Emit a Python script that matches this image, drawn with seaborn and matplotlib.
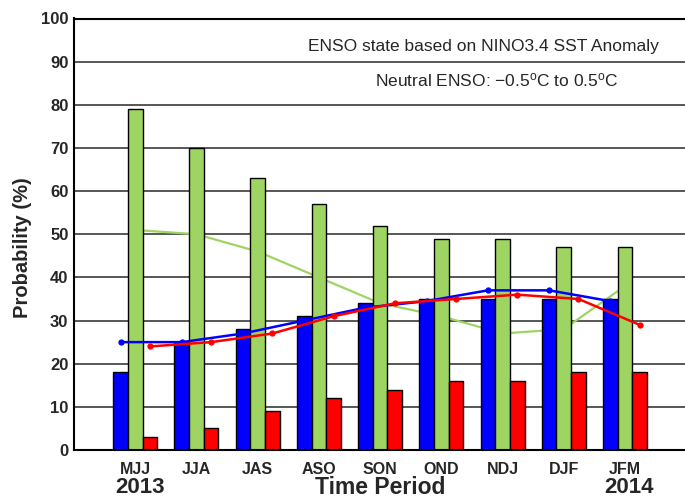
import numpy as np
import pandas as pd
import matplotlib
matplotlib.use("Agg")
import matplotlib.pyplot as plt
import seaborn as sns

seasons = ["MJJ", "JJA", "JAS", "ASO", "SON", "OND", "NDJ", "DJF", "JFM"]
el_nino = [18, 25, 28, 31, 34, 35, 35, 35, 35]
neutral = [79, 70, 63, 57, 52, 49, 49, 47, 47]
la_nina = [3, 5, 9, 12, 14, 16, 16, 18, 18]
clim_el_nino = [25, 25, 27, 30, 33, 34.5, 37, 37, 34.5]
clim_neutral = [51, 50, 46, 40, 34, 31, 27, 28, 38]
clim_la_nina = [24, 25, 27, 31, 34, 35, 36, 35, 29]
yticks = list(range(0, 101, 10))

sns.set_style("white")
plt.rcParams['font.family'] = ['Liberation Sans', 'DejaVu Sans']
plt.rcParams['mathtext.fontset'] = 'custom'
plt.rcParams['mathtext.rm'] = 'Liberation Sans'
plt.rcParams['mathtext.it'] = 'Liberation Sans:italic'
plt.rcParams['mathtext.bf'] = 'Liberation Sans:bold'

BLUE = "#0000ff"
GREEN = "#9ed462"
RED = "#ff0000"

df = pd.DataFrame({
    "season": seasons * 3,
    "prob": el_nino + neutral + la_nina,
    "state": ["El Nino"] * 9 + ["Neutral"] * 9 + ["La Nina"] * 9,
})

fig = plt.figure(figsize=(6.85, 5.0), dpi=100)
ax = fig.add_axes([74 / 685, 50 / 500, 1 - 74 / 685, (450 - 18.5) / 500])

sns.barplot(data=df, x="season", y="prob", hue="state",
            hue_order=["El Nino", "Neutral", "La Nina"],
            palette=[BLUE, GREEN, RED], order=seasons,
            width=0.72, saturation=1, edgecolor="black", linewidth=1.0,
            legend=False, ax=ax, zorder=2)

off = 0.24
xs = np.arange(len(seasons))
ax.plot(xs, clim_neutral, color=GREEN, lw=1.6, zorder=1)
ax.plot(xs - off, clim_el_nino, color=BLUE, lw=1.8, marker="o", ms=3.5, zorder=4)
ax.plot(xs + off, clim_la_nina, color=RED, lw=1.8, marker="o", ms=3.5, zorder=4)

ax.set_xlim(-1.0, 8.98)
ax.set_ylim(0, 100)
ax.set_yticks(yticks)
ax.set_yticklabels([str(t) for t in yticks], fontweight="bold", fontsize=12)
ax.set_xticks(xs)
ax.set_xticklabels(seasons, fontweight="bold", fontsize=11.5)
ax.tick_params(axis="y", length=0, pad=4)
ax.tick_params(axis="x", length=0, pad=9)
ax.yaxis.grid(True, color="#4a4a4a", lw=1.3)
ax.set_axisbelow(True)
for s in ["left", "bottom", "top"]:
    ax.spines[s].set_color("black")
    ax.spines[s].set_linewidth(1.5)
ax.spines["right"].set_visible(False)

ax.set_xlabel("")
ax.set_ylabel("Probability (%)", fontweight="bold", fontsize=14.5)
ax.yaxis.set_label_coords(-0.068, 0.47)

tr = ax.get_xaxis_transform()
ax.text(0.07, -0.088, "2013", transform=tr, ha="center", va="center",
        fontweight="bold", fontsize=16, clip_on=False)
ax.text(8.06, -0.088, "2014", transform=tr, ha="center", va="center",
        fontweight="bold", fontsize=16, clip_on=False)
ax.text(4.0, -0.088, "Time Period", transform=tr, ha="center", va="center",
        fontweight="bold", fontsize=16.5, clip_on=False)

ax.text(5.68, 93.6, "ENSO state based on NINO3.4 SST Anomaly", ha="center",
        va="center", fontsize=12.5, zorder=5)
ax.text(5.9, 85.7, r"Neutral ENSO: $-$0.5$^{\rm o}$C to 0.5$^{\rm o}$C",
        ha="center", va="center", fontsize=12.5, zorder=5)

fig.savefig("out.png", dpi=100)
